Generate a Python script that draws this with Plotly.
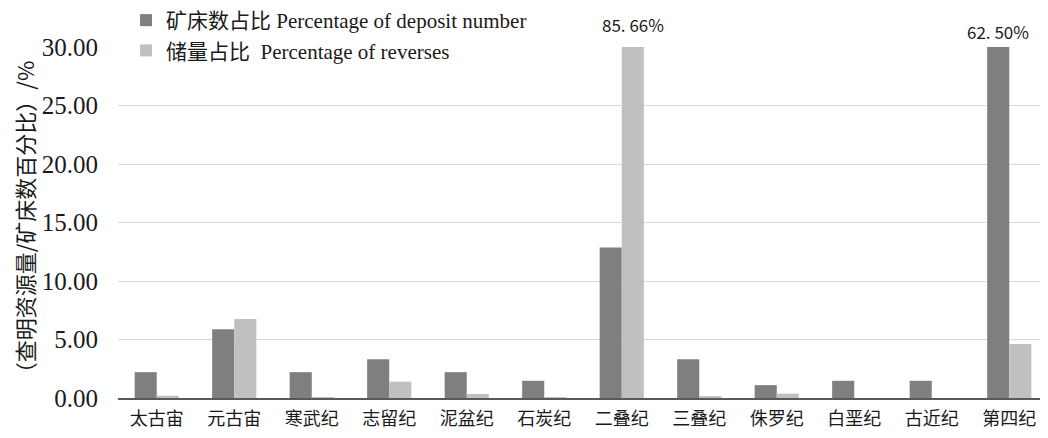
import plotly.graph_objects as go

categories = ["太古宙", "元古宙", "寒武纪", "志留纪", "泥盆纪", "石炭纪",
              "二叠纪", "三叠纪", "侏罗纪", "白垩纪", "古近纪", "第四纪"]
deposit_pct = [2.21, 5.88, 2.21, 3.31, 2.21, 1.47, 12.87, 3.31, 1.10, 1.47, 1.47, 62.50]
reserve_pct = [0.20, 6.75, 0.05, 1.40, 0.35, 0.05, 85.66, 0.15, 0.37, 0.0, 0.0, 4.62]
series_names = ["矿床数占比 Percentage of deposit number", "储量占比  Percentage of reverses"]
y_title = "（查明资源量/矿床数百分比）/%"
y_ticks = [0, 5, 10, 15, 20, 25, 30]

FONT = "Liberation Serif, Times New Roman, Noto Sans CJK SC, serif"
TXT = "#1a1a1a"

fig = go.Figure()
fig.add_trace(go.Bar(x=categories, y=deposit_pct, name=series_names[0],
                     marker=dict(color="#7f7f7f", line=dict(width=0)),
                     legendgroup="a"))
fig.add_trace(go.Bar(x=categories, y=reserve_pct, name=series_names[1],
                     marker=dict(color="#c0c0c0", line=dict(width=0)),
                     legendgroup="b"))

# labels for the bars that exceed the axis range
for series, shift in ((reserve_pct, 11), (deposit_pct, -11)):
    for c, v in zip(categories, series):
        if v > y_ticks[-1]:
            fig.add_annotation(x=c, y=y_ticks[-1], xref="x", yref="y",
                               text=f"{v:.2f}".replace(".", ". ") + "%",
                               showarrow=False, xshift=shift,
                               yshift=(23 if shift > 0 else 16), yanchor="middle",
                               font=dict(family="Noto Sans CJK SC, Liberation Serif", size=17, color=TXT))

# page body has an 8px margin, so the figure is sized/offset to compensate
fig.update_layout(
    width=1040, height=430,
    margin=dict(l=110, r=0, t=39, b=40, autoexpand=False),
    paper_bgcolor="white", plot_bgcolor="white",
    barmode="group", bargap=0.43, bargroupgap=0,
    font=dict(family=FONT, color=TXT),
    showlegend=True,
    legend=dict(x=0.0086, y=1.134, xanchor="left", yanchor="top",
                bgcolor="white", borderwidth=0,
                font=dict(family=FONT, size=21, color=TXT),
                traceorder="grouped", tracegroupgap=0,
                itemwidth=30),
    xaxis=dict(showline=True, linecolor="#595959", linewidth=1.5,
               ticks="", automargin=False, ticklabelstandoff=4,
               tickfont=dict(family="Noto Sans CJK SC", size=18, color=TXT),
               showgrid=False),
    yaxis=dict(range=[0, 30], tickvals=y_ticks, tickformat=".2f",
               showgrid=True, gridcolor="#d9d9d9", gridwidth=1,
               zeroline=False, showline=False, ticks="", automargin=False,
               ticklabelstandoff=19,
               tickfont=dict(family=FONT, size=25, color=TXT),
               title=dict(text=y_title, standoff=13,
                          font=dict(family="Noto Sans CJK SC", size=22, color=TXT))),
)

fig.write_html("out.html")
